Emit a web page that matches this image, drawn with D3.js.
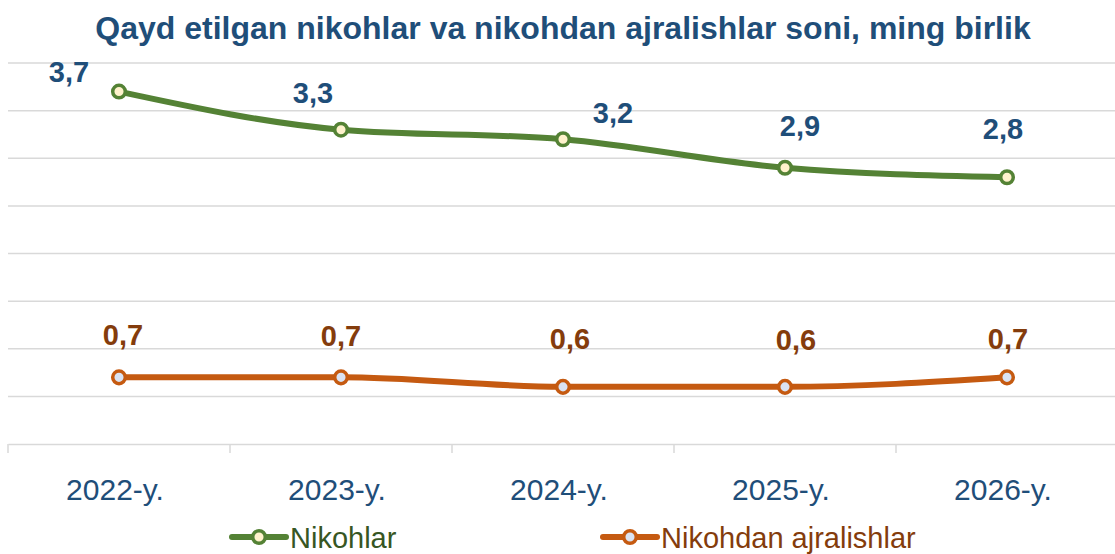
<!DOCTYPE html>
<html>
<head>
<meta charset="utf-8">
<script src="https://cdn.jsdelivr.net/npm/d3@7"></script>
<style>
  body { margin: 0; background: #fff; }
  svg { font-family: "Liberation Sans", Arial, sans-serif; }
</style>
</head>
<body>
<div id="chart"></div>
<script>
var years = ["2022-y.", "2023-y.", "2024-y.", "2025-y.", "2026-y."];
var nikohlar = [3.7, 3.3, 3.2, 2.9, 2.8];
var ajralish = [0.7, 0.7, 0.6, 0.6, 0.7];
var seriesNames = ["Nikohlar", "Nikohdan ajralishlar"];
var yTicks = [0, 0.5, 1, 1.5, 2, 2.5, 3, 3.5, 4];

// label nudges (px, to baseline) so they sit like the original
var greenOff = [[-50, -10], [-28, -27], [50, -16], [15, -32], [-4, -38]];
var orangeOff = [[4, -32], [0, -31], [7, -38], [11, -37], [1, -28]];

var width = 1115, height = 554;
var plotLeft = 8, plotRight = 1118, plotTop = 63, plotBottom = 444;

var svg = d3.select("#chart").append("svg")
    .attr("width", width)
    .attr("height", height);

var x = d3.scaleBand().domain(years).range([plotLeft, plotRight]);
var y = d3.scaleLinear().domain([0, 4]).range([plotBottom, plotTop]);

// title
svg.append("text")
    .attr("x", 563).attr("y", 39)
    .attr("text-anchor", "middle")
    .attr("font-size", 32).attr("font-weight", "bold")
    .attr("fill", "#1F4E79")
    .text("Qayd etilgan nikohlar va nikohdan ajralishlar soni, ming birlik");

// gridlines
svg.append("g").selectAll("line")
    .data(yTicks.slice(1))
    .enter().append("line")
    .attr("x1", plotLeft).attr("x2", plotRight)
    .attr("y1", function(d) { return y(d); })
    .attr("y2", function(d) { return y(d); })
    .attr("stroke", "#D9D9D9").attr("stroke-width", 1.5);

// x axis
var xAxis = svg.append("g")
    .attr("transform", "translate(0," + plotBottom + ")")
    .call(d3.axisBottom(x).tickSize(0).tickPadding(0));
xAxis.select(".domain").attr("stroke", "#D9D9D9").attr("stroke-width", 1.5);
xAxis.selectAll("text")
    .attr("dy", null).attr("y", 56).attr("x", -4)
    .attr("font-size", 30).attr("fill", "#1F4E79")
    .attr("font-family", "Liberation Sans, Arial, sans-serif");
var bounds = years.map(function(d) { return x(d); }).concat([plotRight]);
xAxis.selectAll(".sep").data(bounds).enter().append("line")
    .attr("x1", function(d) { return d; }).attr("x2", function(d) { return d; })
    .attr("y1", 0).attr("y2", 9)
    .attr("stroke", "#D9D9D9").attr("stroke-width", 1.5);

var cx = function(d, i) { return x(years[i]) + x.bandwidth() / 2; };

function drawSeries(vals, lineCol, fillCol, labelCol, offs) {
  var line = d3.line()
      .x(function(d, i) { return cx(d, i); })
      .y(function(d) { return y(d); })
      .curve(d3.curveMonotoneX);
  svg.append("path").datum(vals)
      .attr("d", line)
      .attr("fill", "none")
      .attr("stroke", lineCol).attr("stroke-width", 6)
      .attr("stroke-linecap", "round");
  svg.append("g").selectAll("circle")
      .data(vals).enter().append("circle")
      .attr("cx", cx)
      .attr("cy", function(d) { return y(d); })
      .attr("r", 6.3)
      .attr("fill", fillCol)
      .attr("stroke", lineCol).attr("stroke-width", 3.5);
  svg.append("g").selectAll("text")
      .data(vals).enter().append("text")
      .attr("x", function(d, i) { return cx(d, i) + offs[i][0]; })
      .attr("y", function(d, i) { return y(d) + offs[i][1]; })
      .attr("text-anchor", "middle")
      .attr("font-size", 29).attr("font-weight", "bold")
      .attr("fill", labelCol)
      .text(function(d) { return d.toFixed(1).replace(".", ","); });
}

drawSeries(nikohlar, "#548235", "#FFF2CC", "#1F4E79", greenOff);
drawSeries(ajralish, "#C55A11", "#DAE3F3", "#843C0C", orangeOff);

// legend
var legend = [
  { name: seriesNames[0], x: 232, line: "#548235", fill: "#FFF2CC", text: "#375623" },
  { name: seriesNames[1], x: 603, line: "#C55A11", fill: "#DAE3F3", text: "#843C0C" }
];
var lg = svg.append("g").selectAll("g").data(legend).enter().append("g")
    .attr("transform", function(d) { return "translate(" + d.x + ",537)"; });
lg.append("line").attr("x1", 0).attr("x2", 54)
    .attr("stroke", function(d) { return d.line; }).attr("stroke-width", 6)
    .attr("stroke-linecap", "round");
lg.append("circle").attr("cx", 27).attr("r", 6.3)
    .attr("fill", function(d) { return d.fill; })
    .attr("stroke", function(d) { return d.line; }).attr("stroke-width", 3.5);
lg.append("text").attr("x", 58).attr("y", 11)
    .attr("font-size", 29)
    .attr("fill", function(d) { return d.text; })
    .text(function(d) { return d.name; });
</script>
</body>
</html>
